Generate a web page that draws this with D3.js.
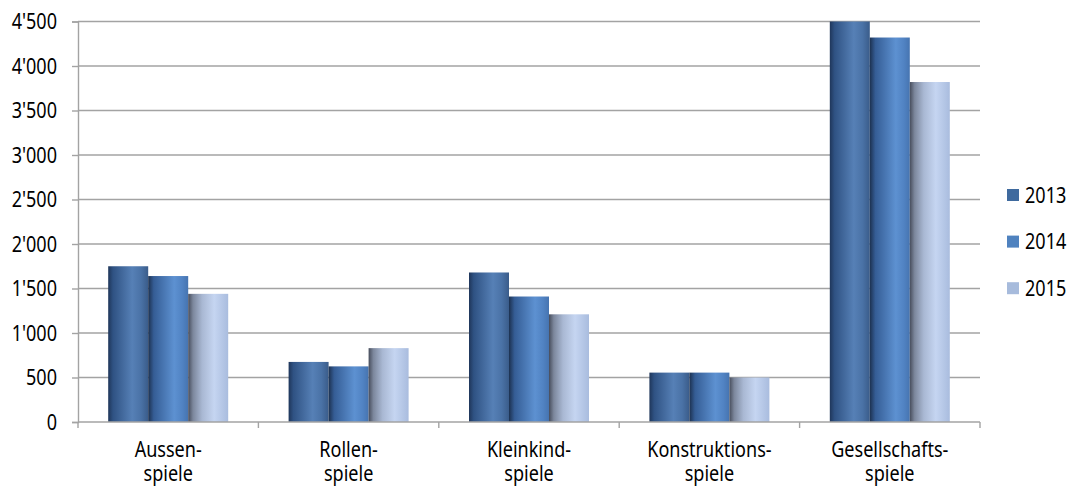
<!DOCTYPE html>
<html>
<head>
<meta charset="utf-8">
<script src="https://cdn.jsdelivr.net/npm/d3@7/dist/d3.min.js"></script>
<style>
  html, body { margin: 0; padding: 0; background: #fff; }
  svg { display: block; }
  text { font-family: "Noto Sans", "Liberation Sans", sans-serif; fill: #000; }
</style>
</head>
<body>
<svg id="chart" width="1070" height="486"></svg>
<script>
// Spielkategorien (zweizeilige Beschriftung)
const categories = [
  ["Aussen-", "spiele"],
  ["Rollen-", "spiele"],
  ["Kleinkind-", "spiele"],
  ["Konstruktions-", "spiele"],
  ["Gesellschafts-", "spiele"]
];
const years = ["2013", "2014", "2015"];
const values2013 = [1750, 675, 1680, 555, 4500];
const values2014 = [1640, 625, 1410, 555, 4320];
const values2015 = [1440, 830, 1210, 500, 3820];
const yTicks = [0, 500, 1000, 1500, 2000, 2500, 3000, 3500, 4000, 4500];

const series = [values2013, values2014, values2015];
const legendColors = ["#3f6a9e", "#4f82bf", "#a7bbdc"];
// Horizontal shading stops per series (cylinder look)
const gradStops = [
  [["0%", "#1f365a"], ["12%", "#2f5283"], ["60%", "#5680b6"], ["82%", "#4a72a6"], ["100%", "#3a5c8a"]],
  [["0%", "#1c3150"], ["14%", "#355d95"], ["65%", "#5d91d1"], ["85%", "#5183c3"], ["100%", "#4674b0"]],
  [["0%", "#474d5c"], ["12%", "#7c879c"], ["35%", "#a9b8d3"], ["65%", "#c5d5f1"], ["100%", "#a9bcde"]]
];

// Slightly condensed lettering: larger size, narrowed horizontally
const FONT_SIZE = 21;
const SX = 0.86;
const squeeze = (tx, ty) => `translate(${tx},${ty}) scale(${SX},1)`;

const svg = d3.select("#chart");
const plotLeft = 78, plotRight = 980, plotTop = 21.5, plotBottom = 422;

const x0 = d3.scaleBand().domain(d3.range(categories.length)).range([plotLeft, plotRight]).paddingInner(0).paddingOuter(0);
const x1 = d3.scaleBand().domain(d3.range(years.length)).range([0, 120]);
const y = d3.scaleLinear().domain([0, 4500]).range([plotBottom, plotTop]);

// Gradients
const defs = svg.append("defs");
gradStops.forEach((stops, i) => {
  const g = defs.append("linearGradient").attr("id", "grad" + i)
    .attr("x1", "0%").attr("x2", "100%").attr("y1", "0%").attr("y2", "0%");
  stops.forEach(s => g.append("stop").attr("offset", s[0]).attr("stop-color", s[1]));
});

// Gridlines
svg.append("g").selectAll("line").data(yTicks.filter(t => t > 0)).join("line")
  .attr("x1", plotLeft).attr("x2", plotRight)
  .attr("y1", d => y(d)).attr("y2", d => y(d))
  .attr("stroke", "#a3a3a3").attr("stroke-width", 1.4);

// Y axis
const yAxis = svg.append("g").attr("transform", `translate(${plotLeft},0)`)
  .call(d3.axisLeft(y).tickValues(yTicks).tickSize(6).tickPadding(15)
    .tickFormat(d => d3.format(",")(d).replace(/,/g, "'")));
yAxis.select(".domain").attr("stroke", "#a3a3a3").attr("stroke-width", 1.4);
yAxis.selectAll(".tick line").attr("stroke", "#a3a3a3").attr("stroke-width", 1.4);
yAxis.selectAll(".tick text").attr("font-size", FONT_SIZE).attr("fill", "#000")
  .attr("font-family", null)
  .attr("x", 0).attr("dy", "0.35em")
  .attr("transform", squeeze(-21, 0));

// Bars
const groups = svg.append("g").selectAll("g").data(categories).join("g")
  .attr("transform", (d, i) => `translate(${x0(i) + (x0.bandwidth() - 120) / 2},0)`);
groups.each(function(d, ci) {
  d3.select(this).selectAll("rect").data(years).join("rect")
    .attr("x", (yr, si) => x1(si))
    .attr("width", x1.bandwidth())
    .attr("y", (yr, si) => y(series[si][ci]))
    .attr("height", (yr, si) => plotBottom - y(series[si][ci]))
    .attr("fill", (yr, si) => `url(#grad${si})`);
});

// X axis
const xAxis = svg.append("g").attr("transform", `translate(0,${plotBottom})`);
xAxis.append("line").attr("x1", plotLeft).attr("x2", plotRight).attr("stroke", "#a3a3a3").attr("stroke-width", 1.4);
const edges = d3.range(categories.length + 1).map(i => i < categories.length ? x0(i) : plotRight);
xAxis.selectAll(".tk").data(edges).join("line").attr("class", "tk")
  .attr("x1", d => d).attr("x2", d => d).attr("y1", 0).attr("y2", 6)
  .attr("stroke", "#a3a3a3").attr("stroke-width", 1.4);
xAxis.selectAll(".lbl").data(categories).join("text").attr("class", "lbl")
  .attr("text-anchor", "middle").attr("font-size", FONT_SIZE)
  .attr("transform", (d, i) => squeeze(x0(i) + x0.bandwidth() / 2, 0))
  .each(function(d) {
    d3.select(this).selectAll("tspan").data(d).join("tspan")
      .attr("x", 0)
      .attr("y", (t, j) => 35.5 + j * 23.5)
      .text(t => t);
  });

// Legend
const legend = svg.append("g").selectAll("g").data(years).join("g")
  .attr("transform", (d, i) => `translate(1007,${195 + i * 46.6})`);
legend.append("rect").attr("x", 0).attr("y", -6).attr("width", 12).attr("height", 12)
  .attr("fill", (d, i) => legendColors[i]);
legend.append("text").attr("font-size", FONT_SIZE)
  .attr("transform", squeeze(18, 7.5)).text(d => d);
</script>
</body>
</html>
